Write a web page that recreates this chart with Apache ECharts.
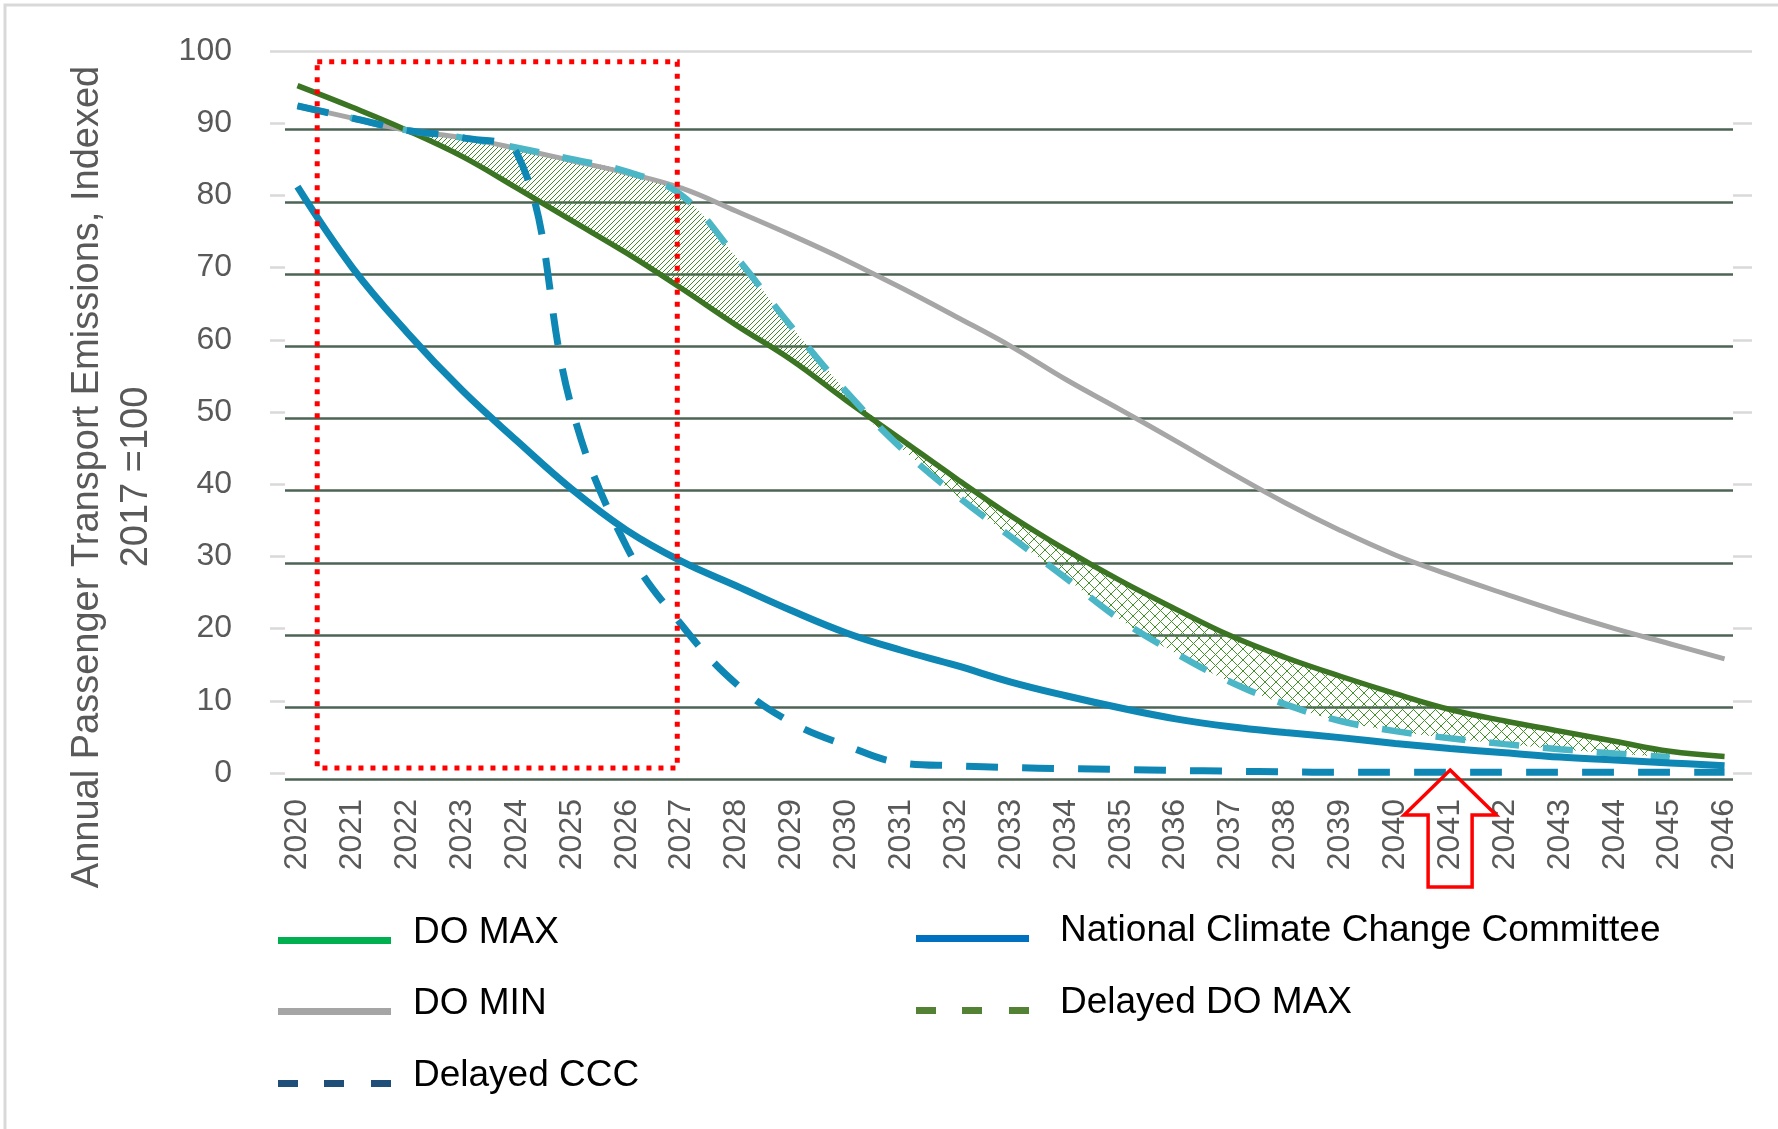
<!DOCTYPE html>
<html><head><meta charset="utf-8">
<script src="https://cdn.jsdelivr.net/npm/echarts@6/dist/echarts.min.js"></script>
<style>html,body{margin:0;padding:0;background:#fff;}#c{width:1778px;height:1129px;}</style>
</head><body><div id="c"></div>
<script>
// ---------- data ----------
const years = ['2020','2021','2022','2023','2024','2025','2026','2027','2028','2029','2030','2031','2032','2033',
  '2034','2035','2036','2037','2038','2039','2040','2041','2042','2043','2044','2045','2046'];
const yTicks = [0,10,20,30,40,50,60,70,80,90,100];

const doMax = [95.2,92.2,89.0,85.4,81.0,76.5,72.0,67.1,62.0,57.2,51.6,46.2,40.8,35.6,30.9,26.6,22.7,19.0,16.0,13.4,11.0,8.8,7.2,5.8,4.4,3.0,2.3];
const doMin = [92.4,90.7,89.0,88.0,86.5,84.8,83.1,81.0,77.8,74.5,71.0,67.2,63.2,59.1,54.5,50.3,46.0,41.6,37.4,33.6,30.2,27.4,24.8,22.3,20.0,17.9,15.8];
const ncc = [81.2,70.0,61.0,53.0,46.0,39.3,33.6,29.3,25.9,22.5,19.4,17.0,14.9,12.6,10.7,9.0,7.5,6.4,5.6,4.9,4.1,3.4,2.8,2.2,1.8,1.4,1.0];
const delayedDoMax = [92.4,90.7,89.0,88.0,86.6,85.0,83.3,80.0,71.4,61.8,52.8,45.0,38.5,32.7,27.0,21.2,16.6,12.6,9.5,7.2,5.8,4.8,4.0,3.3,2.7,2.2,'-'];
const delayedCcc = [92.4,90.7,89.0,88.0,85.8,50.5,31.3,20.5,12.3,7.0,3.8,1.4,1.0,0.75,0.6,0.5,0.35,0.25,0.15,0.1,0.1,0.1,0.1,0.1,0.1,0.1,0.1];

// annotations (data units): focus box [x0, yTop, x1, yBottom], arrow tip [year, value]
const focusBox = [2020.36, 98.5, 2026.92, 0.7];
const arrowTip = [2041, 0.4];

// hatch ranges (year indices)
const hatchA = [2, 10];   // 2022-2030 diagonal hatch
const hatchB = [10, 25];  // 2030-2045 cross hatch

// ---------- helpers ----------
const FONT = '"Liberation Sans", Arial, sans-serif';
function band(a, b, r) {
  const base = [], diff = [];
  for (let i = 0; i < years.length; i++) {
    const ok = i >= r[0] && i <= r[1] && typeof a[i] === 'number' && typeof b[i] === 'number';
    base.push(ok ? Math.min(a[i], b[i]) : '-');
    diff.push(ok ? Math.abs(a[i] - b[i]) : '-');
  }
  return {base, diff};
}
function pattern(size, cross, color) {
  const c = document.createElement('canvas');
  c.width = size; c.height = size;
  const ctx = c.getContext('2d');
  ctx.fillStyle = color;
  for (let i = 0; i < size; i++) {
    ctx.fillRect(i, size - 1 - i, 1, 1);
    if (cross) ctx.fillRect(i, i, 1, 1);
  }
  return c;
}
const bA = band(doMax, delayedDoMax, hatchA);
const bB = band(doMax, delayedDoMax, hatchB);
const SM = 0.4;

// icons: invisible zero-area top edge keeps the bar low in a 113x23 box, so text sits above the bar
const BAR = 'path://M0,0L113,0L113,0Z M0,16H113V23H0Z';
const DOTS = 'path://M0,0L113,0L113,0Z M0,16H20V23H0Z M46,16H66V23H46Z M93,16H113V23H93Z';

function legendOf(name, color, icon, left, top, padLeft) {
  return {
    show: true, left: left, top: top, padding: 0, itemWidth: 113, itemHeight: 23,
    selectedMode: false, icon: icon,
    textStyle: {fontSize: 37, color: '#000', fontFamily: FONT, padding: [0, 0, 0, padLeft]},
    data: [{name: name, icon: icon, itemStyle: {color: color, borderWidth: 0, opacity: 1}}]
  };
}

const chart = echarts.init(document.getElementById('c'), null, {renderer: 'canvas'});
chart.setOption({
  animation: false,
  backgroundColor: '#fff',
  graphic: [
    {type: 'rect', x: 5, y: 5, shape: {x: 0, y: 0, width: 1800, height: 1200},
     style: {fill: 'none', stroke: '#d9d9d9', lineWidth: 3}, silent: true},
    {type: 'text', x: 112, y: 477, rotation: Math.PI / 2, silent: true,
     style: {text: 'Annual Passenger Transport Emissions, Indexed\n2017 =100', align: 'center',
       verticalAlign: 'middle', fontSize: 38, fontFamily: FONT, fill: '#595959', lineHeight: 49}}
  ],
  legend: [
    legendOf('DO MAX', '#00b050', BAR, 278, 914, 17),
    legendOf('National Climate Change Committee', '#0070c0', BAR, 916, 912, 26),
    legendOf('DO MIN', '#a5a5a5', BAR, 278, 985, 17),
    legendOf('Delayed DO MAX', '#548235', DOTS, 916, 984, 26),
    legendOf('Delayed CCC', '#1f4e79', DOTS, 278, 1057, 17)
  ],
  grid: [
    {left: 270, right: 26, top: 51, bottom: 356, containLabel: false, outerBoundsMode: 'none'},
    {left: 285, right: 45, top: 57.5, bottom: 349.5, show: true, backgroundColor: '#fff', borderWidth: 0, z: 1,
     containLabel: false, outerBoundsMode: 'none'}
  ],
  xAxis: [
    {type: 'category', gridIndex: 0, data: years, boundaryGap: true,
     axisLine: {show: false}, axisTick: {show: false}, splitLine: {show: false},
     axisLabel: {rotate: 90, interval: 0, fontSize: 32, color: '#595959', fontFamily: FONT, margin: 26}},
    {type: 'category', gridIndex: 1, data: years, show: false},
    {type: 'value', gridIndex: 0, min: 2019.5, max: 2046.5, show: false}
  ],
  yAxis: [
    {type: 'value', gridIndex: 0, min: yTicks[0], max: yTicks[yTicks.length - 1], interval: 10, z: 0,
     axisLine: {show: false}, axisTick: {show: false},
     axisLabel: {fontSize: 32, color: '#595959', fontFamily: FONT, margin: 38},
     splitLine: {show: true, lineStyle: {color: '#d9d9d9', width: 2.5}}},
    {type: 'value', gridIndex: 1, min: yTicks[0], max: yTicks[yTicks.length - 1], interval: 10, z: 2,
     axisLine: {show: false}, axisTick: {show: false}, axisLabel: {show: false},
     splitLine: {show: true, showMaxLine: false, lineStyle: {color: '#4d6355', width: 2.5}}}
  ],
  series: [
    {name: 'hatchA-base', type: 'line', stack: 'A', data: bA.base, smooth: SM, symbol: 'none',
     lineStyle: {opacity: 0}, silent: true, z: 3},
    {name: 'hatchA', type: 'line', stack: 'A', data: bA.diff, smooth: SM, symbol: 'none',
     lineStyle: {opacity: 0}, areaStyle: {color: {image: pattern(5, false, '#3d8a26'), repeat: 'repeat'}, opacity: 1}, silent: true, z: 3},
    {name: 'hatchB-base', type: 'line', stack: 'B', data: bB.base, smooth: SM, symbol: 'none',
     lineStyle: {opacity: 0}, silent: true, z: 3},
    {name: 'hatchB', type: 'line', stack: 'B', data: bB.diff, smooth: SM, symbol: 'none',
     lineStyle: {opacity: 0}, areaStyle: {color: {image: pattern(11, true, '#43922a'), repeat: 'repeat'}, opacity: 1}, silent: true, z: 3},
    {name: 'DO MIN', type: 'line', data: doMin, smooth: SM, symbol: 'none', z: 4,
     lineStyle: {color: '#a6a6a6', width: 5}, itemStyle: {color: '#a6a6a6'}},
    {name: 'DO MAX', type: 'line', data: doMax, smooth: SM, symbol: 'none', z: 5,
     lineStyle: {color: '#3b7524', width: 5.5}, itemStyle: {color: '#3b7524'}},
    {name: 'Delayed DO MAX', type: 'line', data: delayedDoMax, smooth: SM, symbol: 'none', z: 6,
     lineStyle: {color: '#4bb6c6', width: 6.5, type: [30, 24]}, itemStyle: {color: '#4bb6c6'}},
    {name: 'Delayed CCC', type: 'line', data: delayedCcc, smooth: SM, symbol: 'none', z: 7,
     lineStyle: {color: '#0e87b4', width: 7, type: [32, 24]}, itemStyle: {color: '#0e87b4'}},
    {name: 'National Climate Change Committee', type: 'line', data: ncc, smooth: SM, symbol: 'none', z: 8,
     lineStyle: {color: '#0e87b4', width: 7}, itemStyle: {color: '#0e87b4'}},
    {name: 'focus', type: 'custom', xAxisIndex: 2, yAxisIndex: 0, data: [focusBox], z: 10, silent: true, clip: false,
     renderItem: function (params, api) {
       const p0 = api.coord([api.value(0), api.value(1)]);
       const p1 = api.coord([api.value(2), api.value(3)]);
       return {type: 'rect', shape: {x: p0[0], y: p0[1], width: p1[0] - p0[0], height: p1[1] - p0[1]},
         style: {fill: 'none', stroke: '#ff0000', lineWidth: 5, lineDash: [5, 7]}};
     }},
    {name: 'arrow', type: 'custom', xAxisIndex: 2, yAxisIndex: 0, data: [arrowTip], z: 11, silent: true, clip: false,
     renderItem: function (params, api) {
       const t = api.coord([api.value(0), api.value(1)]);
       const x = t[0], y = t[1];
       return {type: 'polygon', shape: {points: [[x, y], [x + 46, y + 45], [x + 22, y + 45], [x + 22, y + 117],
         [x - 22, y + 117], [x - 22, y + 45], [x - 46, y + 45]]},
         style: {fill: 'none', stroke: '#ff0000', lineWidth: 3.5, lineJoin: 'miter'}};
     }}
  ]
});
</script>
</body></html>
